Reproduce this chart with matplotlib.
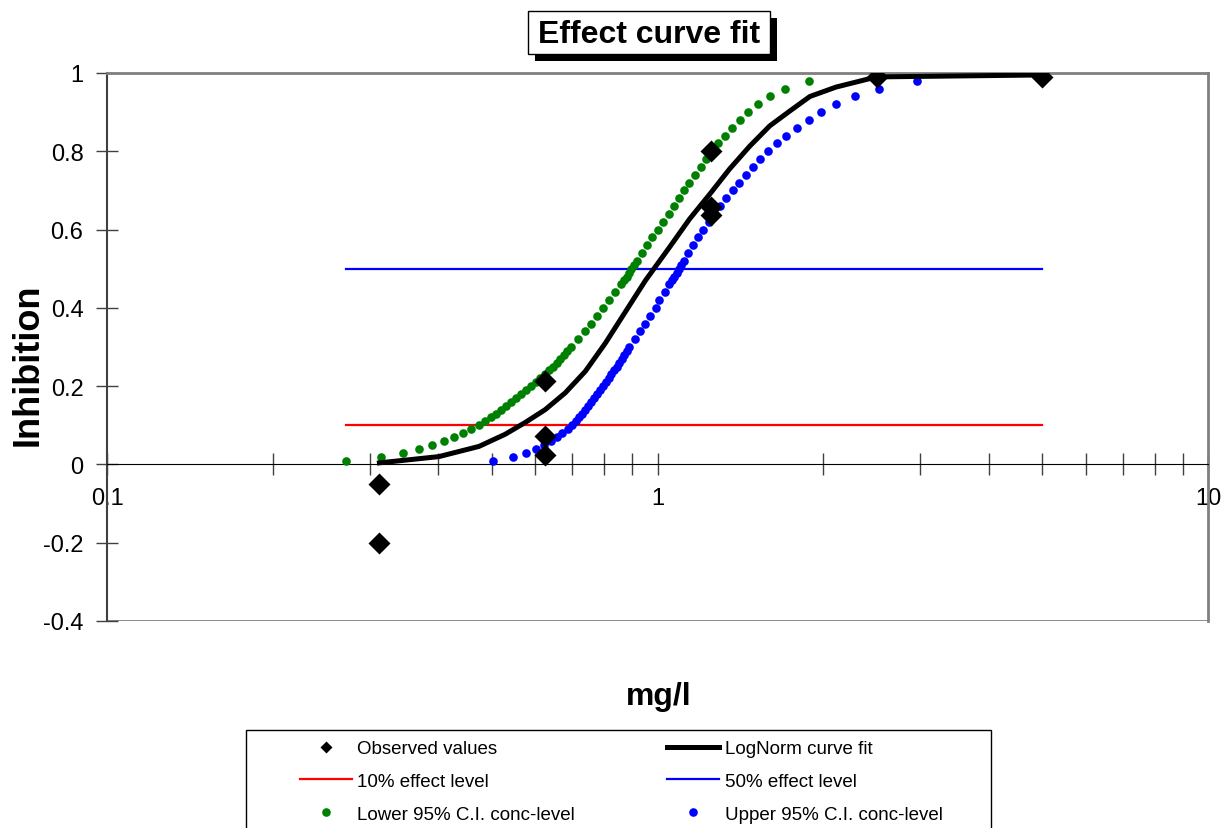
import matplotlib
matplotlib.use('Agg')
import matplotlib.pyplot as plt
import matplotlib.ticker as ticker
from matplotlib.lines import Line2D

plt.rcParams['font.family'] = ['Liberation Sans', 'DejaVu Sans']

# observed inhibition at each tested concentration (mg/l)
obs_conc = [0.3125, 0.3125, 0.625, 0.625, 0.625, 1.25, 1.25, 1.25, 2.5, 5.0]
obs_inhib = [-0.05, -0.20, 0.212, 0.072, 0.023, 0.80, 0.657, 0.637, 0.99, 0.99]

# fitted lognormal curve
fit_conc = [0.3125, 0.4008, 0.4739, 0.5287, 0.5748, 0.6252, 0.6800, 0.7395, 0.8042,
            0.8744, 0.9509, 1.0517, 1.1436, 1.2435, 1.3523, 1.4706, 1.5996, 1.7398,
            1.8916, 2.11, 2.5, 5.0]
fit_inhib = [0.004, 0.02, 0.046, 0.077, 0.107, 0.14, 0.183, 0.238, 0.31,
             0.39, 0.47, 0.555, 0.627, 0.69, 0.755, 0.813, 0.865, 0.903,
             0.94, 0.964, 0.99, 0.995]

# effect levels used for the confidence limits
ci_effect = [0.01, 0.02, 0.03, 0.04, 0.05, 0.06, 0.07, 0.08, 0.09, 0.10,
             0.11, 0.12, 0.13, 0.14, 0.15, 0.16, 0.17, 0.18, 0.19, 0.20,
             0.21, 0.22, 0.23, 0.24, 0.25, 0.26, 0.27, 0.28, 0.29, 0.30,
             0.32, 0.34, 0.36, 0.38, 0.40, 0.42, 0.44, 0.46, 0.47, 0.48,
             0.49, 0.50, 0.51, 0.52, 0.54, 0.56, 0.58, 0.60, 0.62, 0.64,
             0.66, 0.68, 0.70, 0.72, 0.74, 0.76, 0.78, 0.80, 0.82, 0.84,
             0.86, 0.88, 0.90, 0.92, 0.94, 0.96, 0.98]

lower_conc = [0.2714, 0.3144, 0.3446, 0.3686, 0.3893, 0.4093, 0.4268, 0.4432, 0.4583, 0.4739,
              0.4860, 0.4984, 0.5090, 0.5197, 0.5309, 0.5421, 0.5536, 0.5653, 0.5773, 0.5895,
              0.6020, 0.6122, 0.6252, 0.6357, 0.6465, 0.6574, 0.6658, 0.6771, 0.6857, 0.6973,
              0.7181, 0.7395, 0.7583, 0.7775, 0.7973, 0.8178, 0.8385, 0.8598, 0.8708, 0.8817,
              0.8892, 0.8967, 0.9081, 0.9196, 0.9391, 0.9590, 0.9792, 1.0000, 1.0212, 1.0471,
              1.0694, 1.0920, 1.1153, 1.1389, 1.1679, 1.1976, 1.2231, 1.2544, 1.2862, 1.3243,
              1.3639, 1.4105, 1.4584, 1.5209, 1.5996, 1.7033, 1.8836]

upper_conc = [0.5027, 0.5466, 0.5773, 0.6020, 0.6225, 0.6411, 0.6574, 0.6714, 0.6886, 0.7002,
              0.7120, 0.7210, 0.7302, 0.7395, 0.7488, 0.7583, 0.7679, 0.7775, 0.7874, 0.7973,
              0.8074, 0.8178, 0.8246, 0.8350, 0.8455, 0.8527, 0.8636, 0.8708, 0.8817, 0.8892,
              0.9119, 0.9312, 0.9509, 0.9710, 0.9917, 1.0084, 1.0299, 1.0472, 1.0605, 1.0694,
              1.0829, 1.0920, 1.1012, 1.1153, 1.1341, 1.1582, 1.1828, 1.2078, 1.2386, 1.2648,
              1.2970, 1.3301, 1.3696, 1.4044, 1.4462, 1.4894, 1.5337, 1.5863, 1.6473, 1.7107,
              1.7914, 1.8836, 1.9815, 2.1100, 2.2851, 2.5266, 2.9636]

level_conc = [0.2714, 5.0]
level10 = [0.1, 0.1]
level50 = [0.5, 0.5]

W, H = 1228, 829

fig = plt.figure(figsize=(12.28, 8.29), dpi=100)
ax = fig.add_axes([107 / W, 1 - 622 / H, 1101 / W, 548 / H])

ax.plot(level_conc, level10, color='#ff0000', lw=1.6, zorder=2)
ax.plot(level_conc, level50, color='#0000ff', lw=1.6, zorder=2)
ax.plot(lower_conc, ci_effect, 'o', color='#008000', ms=6.2, mec='none', zorder=3)
ax.plot(upper_conc, ci_effect, 'o', color='#0000ff', ms=6.2, mec='none', zorder=3)
ax.plot(fit_conc, fit_inhib, '-', color='black', lw=3.6, zorder=4)
ax.plot(obs_conc, obs_inhib, 'D', color='black', ms=11, mec='none', zorder=5)

ax.set_xscale('log')
ax.set_xlim(0.1, 10)
ax.set_ylim(-0.4, 1)

# x axis sits at y = 0, frame in grey
ax.spines['bottom'].set_position(('data', 0))
ax.spines['bottom'].set_color('black')
ax.spines['left'].set_color('#404040')
ax.spines['left'].set_linewidth(1.5)
for s in ['top', 'right']:
    ax.spines[s].set_color('#808080')
    ax.spines[s].set_linewidth(2)
ax.axhline(-0.4, color='#808080', lw=2, zorder=1)

ax.xaxis.set_major_locator(ticker.FixedLocator([0.1, 1, 10]))
ax.xaxis.set_major_formatter(ticker.FixedFormatter(['0.1', '1', '10']))
ax.xaxis.set_minor_locator(ticker.LogLocator(base=10, subs=range(2, 10)))
ax.xaxis.set_minor_formatter(ticker.NullFormatter())
ax.tick_params(axis='x', which='both', direction='inout', length=16, width=1,
               labelsize=17, pad=8, color='#404040')
ax.yaxis.set_major_locator(ticker.MultipleLocator(0.2))
ax.yaxis.set_major_formatter(ticker.FuncFormatter(lambda v, p: '%g' % round(v, 1)))
ax.tick_params(axis='y', which='major', direction='inout', length=16, width=1,
               labelsize=17, pad=9, color='#404040')

fig.text(28 / W, 1 - 365 / H, 'Inhibition', fontsize=26, fontweight='bold',
         rotation=90, ha='center', va='center')
fig.text(659 / W, 1 - 697 / H, 'mg/l', fontsize=23, fontweight='bold',
         ha='center', va='center')

# title box with drop shadow
fig.patches.append(plt.Rectangle((535 / W, 1 - 62 / H), 242 / W, 43 / H,
                                 transform=fig.transFigure, fc='black', ec='none', zorder=1))
fig.patches.append(plt.Rectangle((528 / W, 1 - 55 / H), 242 / W, 43 / H,
                                 transform=fig.transFigure, fc='white', ec='black', lw=1, zorder=2))
fig.text(649 / W, 1 - 35 / H, 'Effect curve fit', fontsize=23, fontweight='bold',
         ha='center', va='center', zorder=3)

# legend frame (runs off the bottom of the image)
fig.patches.append(plt.Rectangle((246 / W, 1 - 850 / H), 745 / W, 119 / H,
                                 transform=fig.transFigure, fc='white', ec='black', lw=1, zorder=1))

handles = [
    Line2D([], [], ls='none', marker='D', color='black', ms=6, mec='none'),
    Line2D([], [], color='#ff0000', lw=1.6),
    Line2D([], [], ls='none', marker='o', color='#008000', ms=6.2, mec='none'),
    Line2D([], [], color='black', lw=3.6),
    Line2D([], [], color='#0000ff', lw=1.6),
    Line2D([], [], ls='none', marker='o', color='#0000ff', ms=6.2, mec='none'),
]
labels = ['Observed values', '10% effect level', 'Lower 95% C.I. conc-level',
          'LogNorm curve fit', '50% effect level', 'Upper 95% C.I. conc-level']
leg = fig.legend(handles, labels, loc='upper left',
                 bbox_to_anchor=(300 / W, 1 - 741 / H), ncol=2, fontsize=13.5,
                 frameon=False, handlelength=2.75, handletextpad=0.3,
                 columnspacing=4.93, labelspacing=0.84, borderpad=0, borderaxespad=0)
leg.set_zorder(4)

fig.savefig('out.png', dpi=100)
